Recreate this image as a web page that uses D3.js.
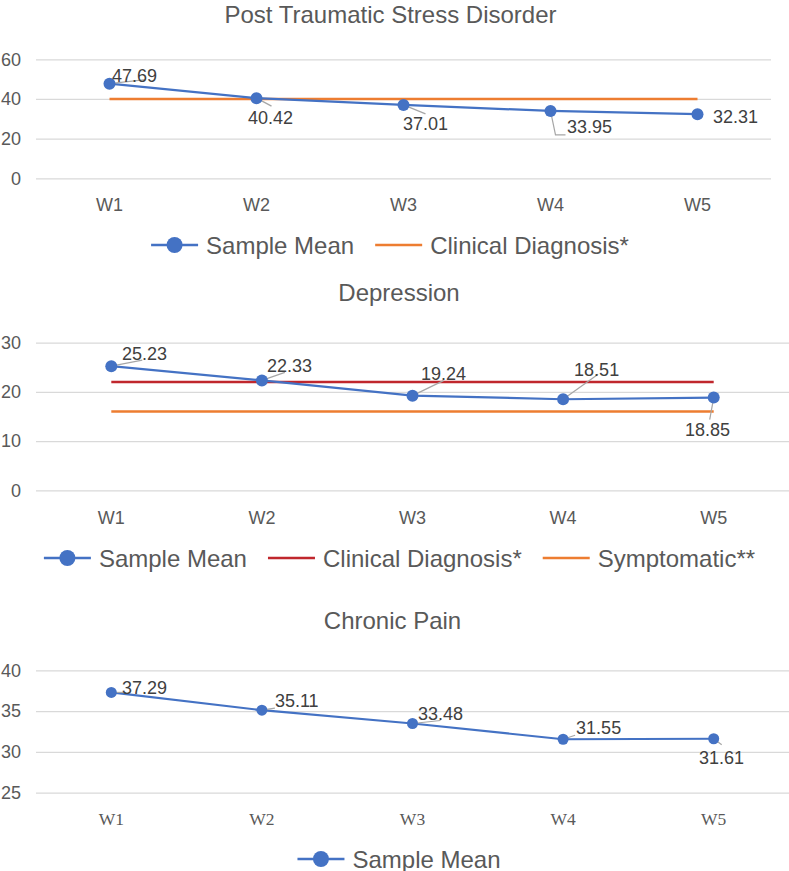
<!DOCTYPE html>
<html>
<head>
<meta charset="utf-8">
<script src="https://cdn.jsdelivr.net/npm/d3@7"></script>
<style>
  html, body { margin: 0; padding: 0; background: #ffffff; }
  svg { display: block; }
</style>
</head>
<body>
<svg id="chart" width="789" height="871"></svg>
<script>
// ---------------- DATA ----------------
const weeks = ["W1", "W2", "W3", "W4", "W5"];

const ptsdTitle = "Post Traumatic Stress Disorder";
const ptsdMean = [47.69, 40.42, 37.01, 33.95, 32.31];
const ptsdClinical = [40, 40, 40, 40, 40];
const ptsdTicks = [0, 20, 40, 60];

const depTitle = "Depression";
const depMean = [25.23, 22.33, 19.24, 18.51, 18.85];
const depClinical = [22, 22, 22, 22, 22];
const depSymptomatic = [16, 16, 16, 16, 16];
const depTicks = [0, 10, 20, 30];

const painTitle = "Chronic Pain";
const painMean = [37.29, 35.11, 33.48, 31.55, 31.61];
const painTicks = [25, 30, 35, 40];

const seriesNames = ["Sample Mean", "Clinical Diagnosis*", "Symptomatic**"];

// ---------------- STYLE ----------------
const BLUE = "#4472C4", ORANGE = "#ED7D31", RED = "#C0272D";
const GRID = "#D9D9D9", TXT = "#595959", LBL = "#404040", LEADER = "#A6A6A6";
const SANS = "'Liberation Sans', Arial, Helvetica, sans-serif";
const SERIF = "'Liberation Serif', 'Times New Roman', serif";

const svg = d3.select("#chart");

function drawPanel(cfg) {
  const g = svg.append("g");
  const x = d3.scaleBand().domain(weeks).range([cfg.x0, cfg.x1]);
  const cx = d => x(d) + x.bandwidth() / 2;
  const y = d3.scaleLinear().domain(cfg.domain).range([cfg.yBottom, cfg.yTop]);

  // title
  g.append("text")
    .attr("x", cfg.titleX).attr("y", cfg.titleY)
    .attr("text-anchor", "middle")
    .attr("font-family", SANS).attr("font-size", 24)
    .attr("fill", TXT).text(cfg.title);

  // y axis with gridlines
  const ya = g.append("g").attr("transform", `translate(${cfg.x0},0)`)
    .call(d3.axisLeft(y).tickValues(cfg.ticks).tickSize(-(cfg.x1 - cfg.x0)).tickPadding(15).tickFormat(d3.format("d")));
  ya.select(".domain").remove();
  ya.selectAll(".tick line").attr("stroke", GRID).attr("stroke-width", 1.3);
  ya.selectAll(".tick text").attr("font-family", SANS).attr("font-size", 18).attr("fill", TXT);

  // x axis
  const xa = g.append("g").attr("transform", `translate(0,${cfg.yBottom})`)
    .call(d3.axisBottom(x).tickSize(0).tickPadding(cfg.xPad));
  xa.select(".domain").remove();
  xa.selectAll(".tick text").attr("font-family", cfg.xFont).attr("font-size", cfg.xSize).attr("fill", TXT);

  const line = d3.line().x((d, i) => cx(weeks[i])).y(d => y(d));

  // reference lines
  cfg.refs.forEach(r => {
    g.append("path").datum(r.values).attr("d", line)
      .attr("fill", "none").attr("stroke", r.color).attr("stroke-width", 2.5);
  });

  // sample mean line
  g.append("path").datum(cfg.mean).attr("d", line)
    .attr("fill", "none").attr("stroke", BLUE).attr("stroke-width", 2.2);

  // leader lines
  cfg.mean.forEach((v, i) => {
    const o = cfg.labels[i];
    if (!o.leader) return;
    const px = cx(weeks[i]), py = y(v);
    g.append("path")
      .attr("d", d3.line()(o.leader.map(p => [px + p[0], py + p[1]])))
      .attr("fill", "none").attr("stroke", LEADER).attr("stroke-width", 1.2);
  });

  // markers
  g.selectAll("circle.m").data(cfg.mean).join("circle")
    .attr("class", "m")
    .attr("cx", (d, i) => cx(weeks[i])).attr("cy", d => y(d))
    .attr("r", cfg.r).attr("fill", BLUE);

  // data labels
  g.selectAll("text.dl").data(cfg.mean).join("text")
    .attr("class", "dl")
    .attr("x", (d, i) => cx(weeks[i]) + cfg.labels[i].dx)
    .attr("y", (d, i) => y(d) + cfg.labels[i].dy)
    .attr("font-family", SANS).attr("font-size", 18).attr("fill", LBL)
    .text(d => d.toFixed(2));

  // legend
  const lg = g.append("g");
  const items = cfg.legend;
  const SYM = 47, GAP = 8, IGAP = 21;
  const widths = [];
  items.forEach((it, k) => {
    const t = lg.append("text").attr("font-family", SANS).attr("font-size", 24)
      .attr("fill", TXT).attr("y", cfg.legendY + 8.5).text(it.name);
    it.node = t;
    widths.push(t.node().getComputedTextLength());
  });
  const total = d3.sum(widths) + items.length * (SYM + GAP) + (items.length - 1) * IGAP;
  let cur = cfg.legendCx - total / 2;
  items.forEach((it, k) => {
    lg.append("line").attr("x1", cur).attr("x2", cur + SYM)
      .attr("y1", cfg.legendY).attr("y2", cfg.legendY)
      .attr("stroke", it.color).attr("stroke-width", 2.5);
    if (it.marker) {
      lg.append("circle").attr("cx", cur + SYM / 2).attr("cy", cfg.legendY)
        .attr("r", 8).attr("fill", it.color);
    }
    it.node.attr("x", cur + SYM + GAP);
    cur += SYM + GAP + widths[k] + IGAP;
  });
}

drawPanel({
  title: ptsdTitle, titleX: 390.5, titleY: 23,
  x0: 36, x1: 771, yBottom: 178.3, yTop: 59.3, domain: [0, 60], ticks: ptsdTicks,
  xFont: SANS, xSize: 18, xPad: 20, r: 6,
  mean: ptsdMean,
  refs: [{ values: ptsdClinical, color: ORANGE }],
  labels: [
    { dx: 2.5, dy: -1.7, leader: [[0, 0], [36, -4]] },
    { dx: -8.5, dy: 26, leader: [[0, 0], [15, 8]] },
    { dx: -0.5, dy: 25, leader: [[0, 0], [22, 9]] },
    { dx: 16.5, dy: 22, leader: [[0, 0], [5, 24], [15, 24]] },
    { dx: 15.5, dy: 9 }
  ],
  legend: [
    { name: seriesNames[0], color: BLUE, marker: true },
    { name: seriesNames[1], color: ORANGE }
  ],
  legendY: 245, legendCx: 390
});

drawPanel({
  title: depTitle, titleX: 399, titleY: 301,
  x0: 36, x1: 789, yBottom: 490.3, yTop: 342.7, domain: [0, 30], ticks: depTicks,
  xFont: SANS, xSize: 18, xPad: 21, r: 6,
  mean: depMean,
  refs: [{ values: depClinical, color: RED }, { values: depSymptomatic, color: ORANGE }],
  labels: [
    { dx: 10.7, dy: -6.2, leader: [[0, 0], [31, -6]] },
    { dx: 5, dy: -8.4, leader: [[0, 0], [23, -8]] },
    { dx: 8.5, dy: -15.6, leader: [[0, 0], [31, -15]] },
    { dx: 11, dy: -23, leader: [[0, 0], [35, -25]] },
    { dx: -28.7, dy: 38, leader: [[0, 0], [-4, 22]] }
  ],
  legend: [
    { name: seriesNames[0], color: BLUE, marker: true },
    { name: seriesNames[1], color: RED },
    { name: seriesNames[2], color: ORANGE }
  ],
  legendY: 558, legendCx: 399.5
});

drawPanel({
  title: painTitle, titleX: 392.5, titleY: 629,
  x0: 36, x1: 789, yBottom: 792.7, yTop: 670.3, domain: [25, 40], ticks: painTicks,
  xFont: SERIF, xSize: 17.5, xPad: 20, r: 5.5,
  mean: painMean,
  refs: [],
  labels: [
    { dx: 10.7, dy: 1.6, leader: [[0, 0], [12, 0]] },
    { dx: 13, dy: -3, leader: [[0, 0], [13, -2]] },
    { dx: 5.5, dy: -3.5, leader: [[0, 0], [28, -3]] },
    { dx: 13, dy: -5, leader: [[0, 0], [12, -4]] },
    { dx: -14.7, dy: 25, leader: [[0, 0], [8, 6]] }
  ],
  legend: [
    { name: seriesNames[0], color: BLUE, marker: true }
  ],
  legendY: 859, legendCx: 399
});
</script>
</body>
</html>
